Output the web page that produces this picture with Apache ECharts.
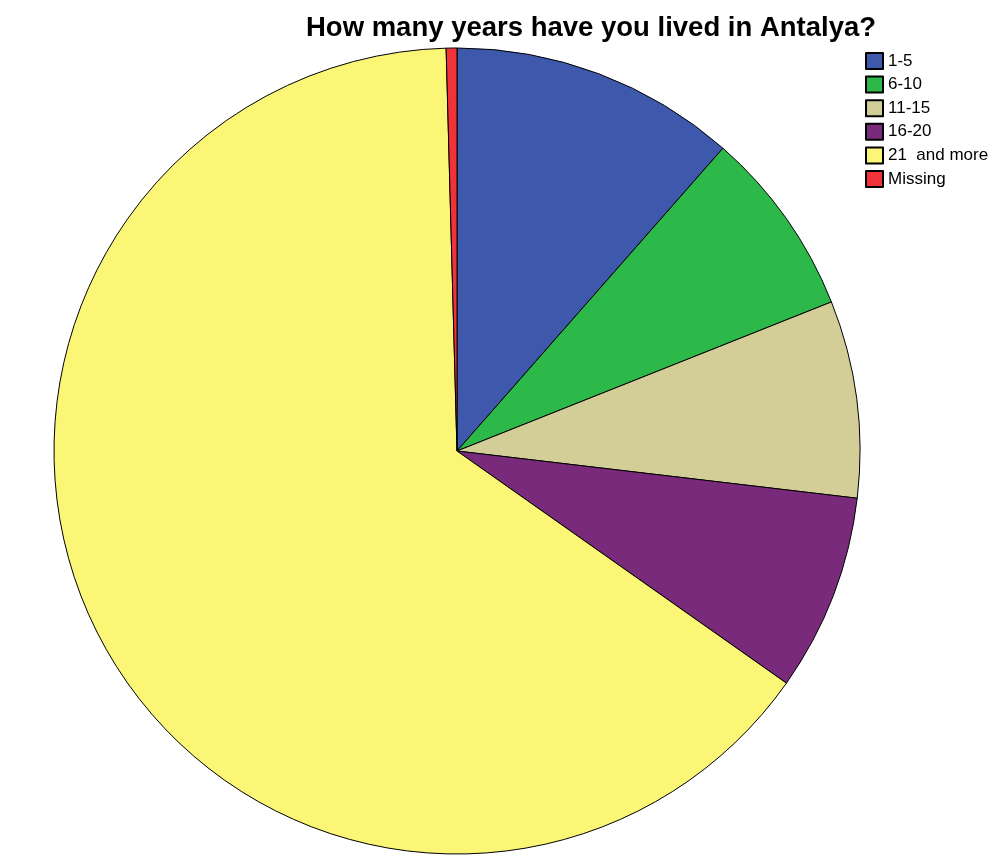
<!DOCTYPE html>
<html>
<head>
<meta charset="utf-8">
<script src="https://cdn.jsdelivr.net/npm/echarts@6/dist/echarts.min.js"></script>
<style>
  html, body { margin: 0; padding: 0; background: #fff; }
  #chart { width: 1003px; height: 856px; }
</style>
</head>
<body>
<div id="chart"></div>
<script>
// Categories and shares (percent)
const categories = ['1-5', '6-10', '11-15', '16-20', '21  and more', 'Missing'];
const shares = [11.47, 7.5, 7.9, 7.9, 64.8, 0.43];
const colors = ['#3e58ac', '#2db84a', '#d3ce97', '#7a2a7b', '#fbf675', '#ef3338'];

const chart = echarts.init(document.getElementById('chart'), null, { renderer: 'canvas' });

const option = {
  animation: false,
  backgroundColor: '#ffffff',
  title: {
    text: 'How many years have you lived in Antalya?',
    left: 586,
    textAlign: 'center',
    top: 9,
    textStyle: {
      fontFamily: 'Liberation Sans, Arial, sans-serif',
      fontSize: 27.5,
      fontWeight: 'bold',
      color: '#000'
    }
  },
  legend: {
    orient: 'vertical',
    left: 865,
    top: 52,
    padding: 0,
    itemWidth: 17,
    itemHeight: 16,
    itemGap: 5.6,
    icon: 'rect',
    data: categories,
    textStyle: {
      fontFamily: 'Liberation Sans, Arial, sans-serif',
      fontSize: 17,
      lineHeight: 16,
      color: '#000'
    }
  },
  series: [
    {
      type: 'pie',
      center: [457, 451],
      radius: [0, 403],
      startAngle: 90,
      clockwise: true,
      silent: true,
      label: { show: false },
      labelLine: { show: false },
      itemStyle: { borderColor: '#000', borderWidth: 1 },
      data: categories.map((name, i) => ({
        name: name,
        value: shares[i],
        itemStyle: { color: colors[i] }
      }))
    }
  ]
};

chart.setOption(option);
</script>
</body>
</html>
